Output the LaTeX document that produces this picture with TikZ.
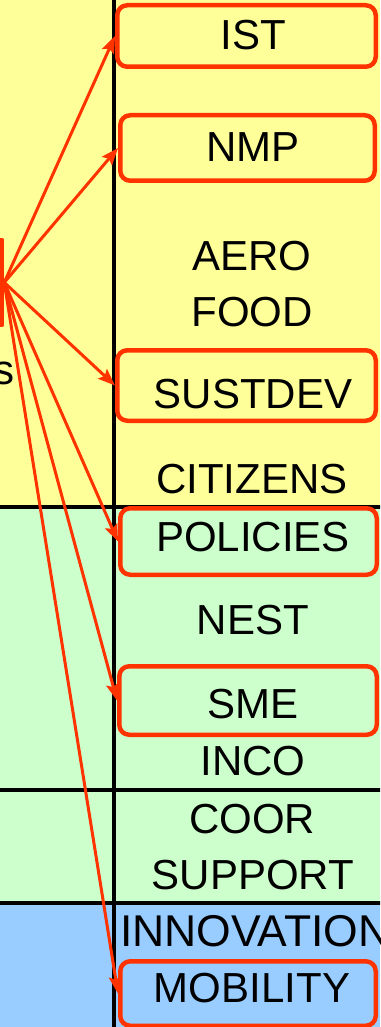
\documentclass[tikz,border=0pt]{standalone}
\usepackage{fontspec}
\setmainfont{Liberation Sans}
\usetikzlibrary{arrows.meta}

\begin{document}
\begin{tikzpicture}[
		x=1pt, y=-1pt,
		font=\fontsize{42}{42}\selectfont,
		>={Stealth[length=17pt,width=13pt,inset=3pt]},
		line join=round
		]
		% Colours of the slide
		\definecolor{fpYellow}{HTML}{FFFF99}
		\definecolor{fpGreen}{HTML}{CCFFCC}
		\definecolor{fpBlue}{HTML}{99CCFF}
		\definecolor{fpRed}{HTML}{FF3300}
		
		% Styles
		\tikzset{
			rbox/.style={rectangle, draw=fpRed, line width=4.5pt, rounded corners=10pt,
				inner sep=0pt},
			lbl/.style={inner sep=0pt, text=black},
			rule/.style={draw=black, line width=4pt},
			link/.style={->, draw=fpRed, fill=fpRed, line width=3pt}
		}
		
		\useasboundingbox (0,0) rectangle (380,1027);
		\clip (0,0) rectangle (380,1027);
		
		% ===== Bands and rules =====
		\fill[fpYellow] (0,0) rectangle (380,507);
		\fill[fpGreen] (0,507) rectangle (380,903);
		\fill[fpBlue] (0,903) rectangle (380,1027);
		
		\draw[rule] (-5,507) -- (385,507);
		\draw[rule] (-5,789.5) -- (385,789.5);
		\draw[rule] (-5,903) -- (385,903);
		\draw[rule] (113.5,-5) -- (113.5,1032);
		
		% ===== Boxes =====
		\node[rbox, rounded corners=0pt, minimum width=300pt, minimum height=85pt] (src) at (-148,282.5) {};
		
		\node[rbox, fill=fpYellow, minimum width=258.5pt, minimum height=61.5pt] (ist) at (246.5,36) {};
		\node[rbox, fill=fpYellow, minimum width=254.5pt, minimum height=65.5pt] (nmp) at (247.5,148) {};
		\node[rbox, fill=fpYellow, minimum width=258.5pt, minimum height=70.5pt] (sust) at (246.5,385.5) {};
		\node[rbox, fill=fpGreen, minimum width=256.5pt, minimum height=66.5pt] (pol) at (248.5,541.5) {};
		\node[rbox, fill=fpGreen, minimum width=257.5pt, minimum height=68.5pt] (sme) at (248,700.5) {};
		\node[rbox, fill=fpBlue, minimum width=255.5pt, minimum height=64.5pt] (mob) at (248,993.5) {};
		
		% ===== Labels =====
		\node[lbl] (tIst) at (253,35) {IST};
		\node[lbl] (tNmp) at (253,147) {NMP};
		\node[lbl] (tAero) at (252,256) {AERO};
		\node[lbl] (tFood) at (252,312) {FOOD};
		\node[lbl] (tSust) at (253,394.5) {SUSTDEV};
		\node[lbl] (tCit) at (252,479) {CITIZENS};
		\node[lbl] (tPol) at (253,537) {POLICIES};
		\node[lbl] (tNest) at (253,620) {NEST};
		\node[lbl] (tSme) at (253,704) {SME};
		\node[lbl] (tInco) at (253,761) {INCO};
		\node[lbl] (tCoor) at (252,819) {COOR};
		\node[lbl] (tSupp) at (253,875) {SUPPORT};
		\node[lbl, anchor=west, font=\fontsize{44.5}{44.5}\selectfont] (tInno) at (120,931) {INNOVATION};
		\node[lbl] (tMob) at (252,988) {MOBILITY};
		
		\node[lbl, anchor=base east] (tS) at (15,384) {s};
		
		% ===== Arrows =====
		\foreach \t in {ist, nmp, sust, pol, sme, mob}
		\draw[link] (src.east) -- (\t.west);
		
	\end{tikzpicture}
\end{document}
